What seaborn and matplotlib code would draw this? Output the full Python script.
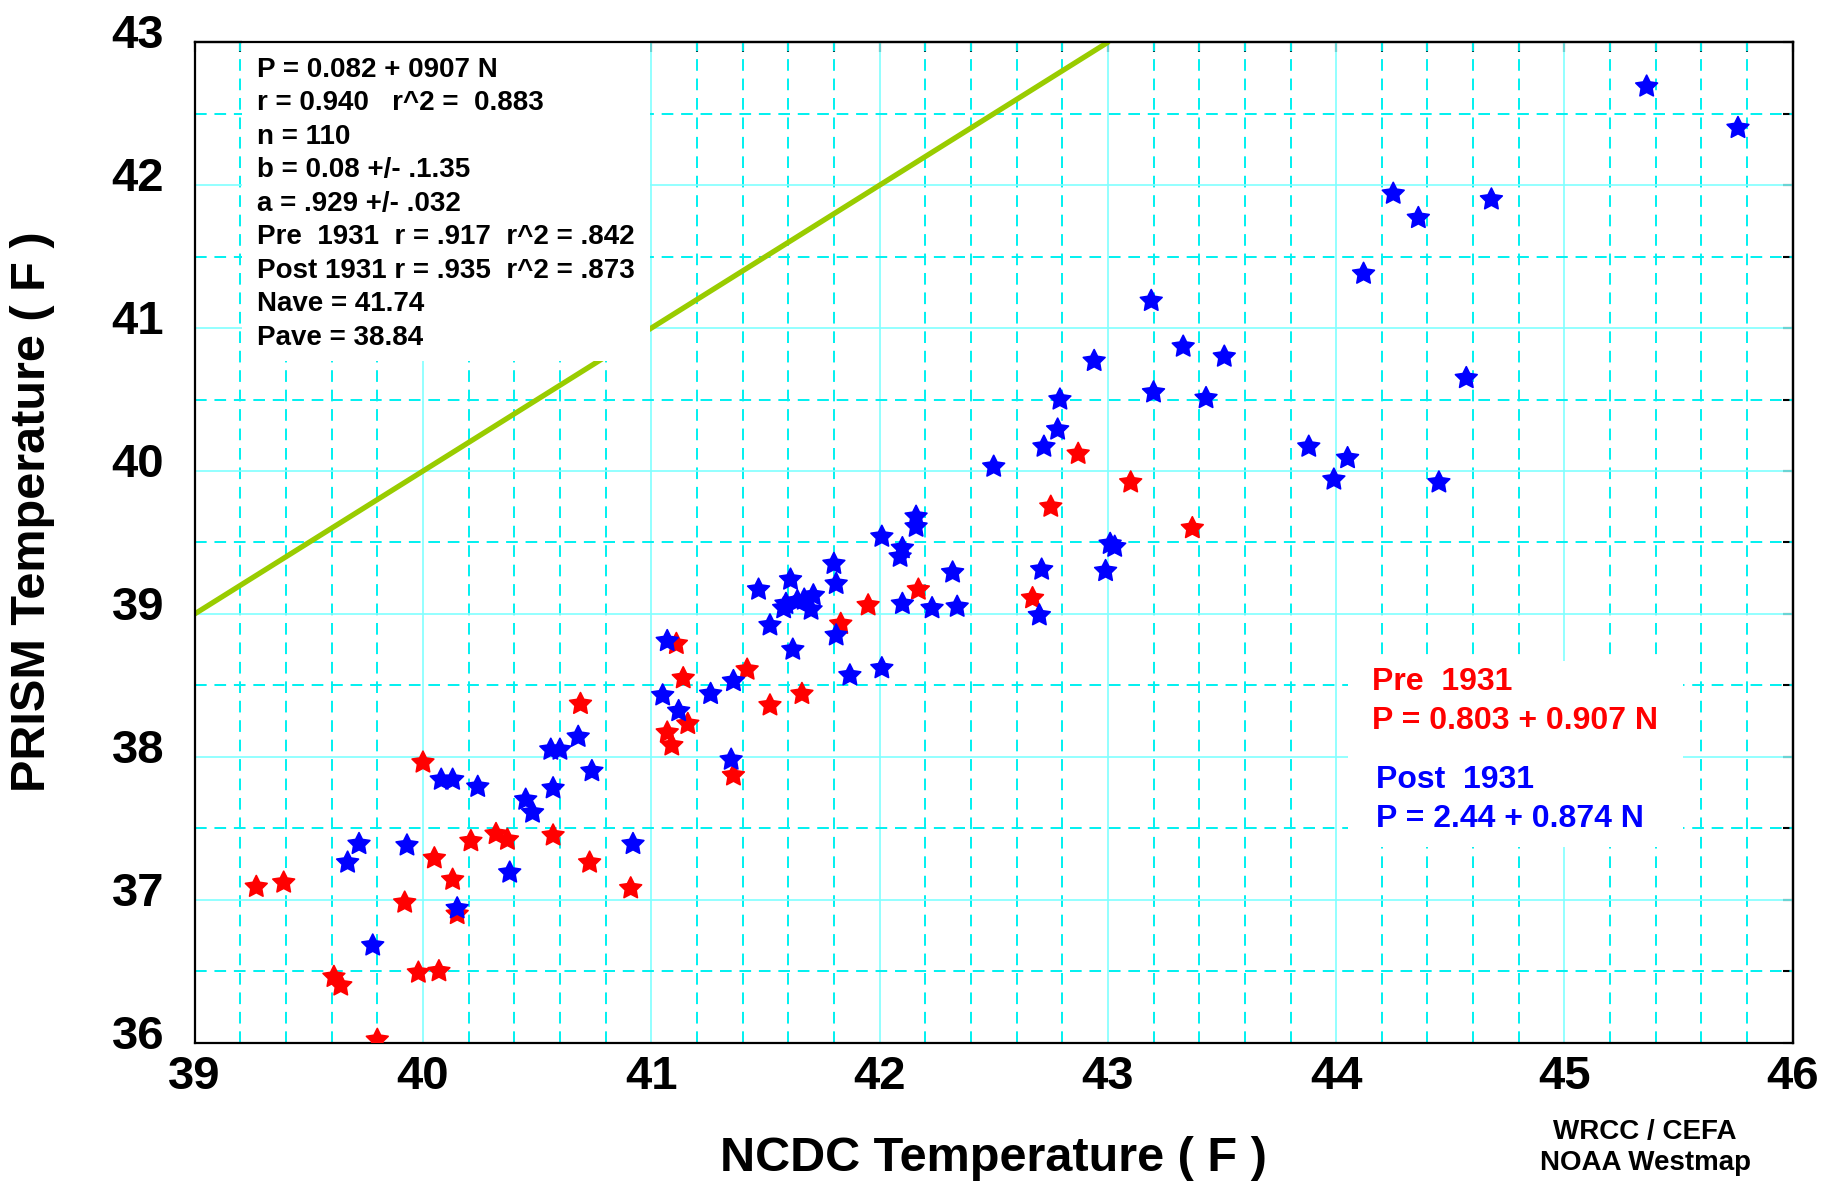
import numpy as np
import pandas as pd
import matplotlib
matplotlib.use("Agg")
import matplotlib.pyplot as plt
import matplotlib.transforms as mtransforms
from matplotlib.patches import Rectangle
from matplotlib.ticker import MultipleLocator
import seaborn as sns

# ---------------- data ----------------
pre_ncdc = [39.27, 39.39, 39.61, 39.64, 39.80, 39.92, 39.98, 40.07, 40.00, 40.05,
            40.13, 40.15, 40.21, 40.32, 40.37, 40.57, 40.73, 40.91, 40.69, 41.07,
            41.09, 41.16, 41.11, 41.14, 41.42, 41.52, 41.66, 41.36, 41.83, 41.95,
            42.17, 42.67, 42.87, 43.10, 42.75, 43.37]
pre_prism = [37.09, 37.12, 36.46, 36.40, 36.02, 36.98, 36.49, 36.50, 37.96, 37.29,
             37.14, 36.90, 37.41, 37.46, 37.42, 37.45, 37.26, 37.08, 38.37, 38.17,
             38.08, 38.23, 38.79, 38.55, 38.61, 38.36, 38.44, 37.87, 38.93, 39.06,
             39.17, 39.11, 40.12, 39.92, 39.75, 39.60]

post_ncdc = [39.72, 39.67, 39.78, 39.93, 40.08, 40.13, 40.24, 40.15, 40.45, 40.48,
             40.38, 40.56, 40.60, 40.57, 40.68, 40.74, 40.92, 41.05, 41.12, 41.07,
             41.26, 41.36, 41.35, 41.47, 41.61, 41.52, 41.59, 41.58, 41.67, 41.71,
             41.70, 41.64, 41.62, 41.80, 41.81, 41.81, 41.87, 42.01, 42.01, 42.16,
             42.16, 42.10, 42.09, 42.10, 42.23, 42.32, 42.34, 42.70, 42.71, 42.99,
             43.01, 43.03, 42.50, 42.72, 42.78, 42.79, 42.94, 43.20, 43.43, 43.51,
             43.33, 43.19, 43.88, 43.99, 44.05, 44.12, 44.25, 44.36, 44.68, 44.57,
             44.45, 45.36, 45.76]
post_prism = [37.39, 37.26, 36.68, 37.38, 37.84, 37.84, 37.79, 36.94, 37.70, 37.61,
              37.19, 38.05, 38.05, 37.78, 38.14, 37.90, 37.39, 38.43, 38.32, 38.81,
              38.44, 38.53, 37.98, 39.17, 39.24, 38.92, 39.07, 39.04, 39.10, 39.13,
              39.03, 39.09, 38.75, 39.35, 39.21, 38.85, 38.57, 38.62, 39.54, 39.68,
              39.61, 39.46, 39.40, 39.07, 39.04, 39.29, 39.05, 38.99, 39.31, 39.30,
              39.49, 39.47, 40.03, 40.17, 40.29, 40.50, 40.77, 40.55, 40.51, 40.80,
              40.87, 41.19, 40.17, 39.94, 40.09, 41.38, 41.94, 41.77, 41.90, 40.65,
              39.92, 42.69, 42.40]

one_to_one = [39.0, 43.0]

stats_lines = [
    "P = 0.082 + 0907 N",
    "r = 0.940   r^2 =  0.883",
    "n = 110",
    "b = 0.08 +/- .1.35",
    "a = .929 +/- .032",
    "Pre  1931  r = .917  r^2 = .842",
    "Post 1931 r = .935  r^2 = .873",
    "Nave = 41.74",
    "Pave = 38.84",
]
pre_label = ["Pre  1931", "P = 0.803 + 0.907 N"]
post_label = ["Post  1931", "P = 2.44 + 0.874 N"]

df = pd.DataFrame({
    "ncdc": pre_ncdc + post_ncdc,
    "prism": pre_prism + post_prism,
    "period": ["pre"] * len(pre_ncdc) + ["post"] * len(post_ncdc),
})
line_df = pd.DataFrame({"x": one_to_one, "y": one_to_one})

# ---------------- style ----------------
sns.set_style("white")
plt.rcParams["font.family"] = ["Liberation Sans", "DejaVu Sans"]
plt.rcParams["font.weight"] = "bold"
plt.rcParams["text.color"] = "black"
plt.rcParams["axes.labelcolor"] = "black"
plt.rcParams["xtick.color"] = "black"
plt.rcParams["ytick.color"] = "black"

fig = plt.figure(figsize=(18.26, 11.81), dpi=100)
ax = fig.add_axes([0.1066, 0.1171, 0.8752, 0.8471])

ax.set_xlim(39, 46)
ax.set_ylim(36, 43)
ax.xaxis.set_major_locator(MultipleLocator(1))
ax.xaxis.set_minor_locator(MultipleLocator(0.2))
ax.yaxis.set_major_locator(MultipleLocator(1))
ax.yaxis.set_minor_locator(MultipleLocator(0.5))
ax.set_axisbelow(True)
ax.grid(which="major", color="#80FFFF", linestyle="-", linewidth=1.2)
ax.grid(which="minor", color="#00F0F0", linestyle=(0, (6, 4)), linewidth=1.4)

# one-to-one line
sns.lineplot(data=line_df, x="x", y="y", ax=ax, color="#99CC00",
             linewidth=3.8, zorder=2, legend=False)

# white boxes behind the text blocks
ax.add_patch(Rectangle((0.0296, 0.681), 0.2554, 0.325, transform=ax.transAxes,
                       facecolor="white", edgecolor="none", zorder=2.5, clip_on=False))
ax.add_patch(Rectangle((0.7217, 0.1956), 0.2095, 0.186, transform=ax.transAxes,
                       facecolor="white", edgecolor="none", zorder=2.5))

sns.scatterplot(data=df, x="ncdc", y="prism", hue="period",
                palette={"pre": "#FF0000", "post": "#0000FF"},
                marker=(5, 1, 0), s=270, linewidth=1.2,
                edgecolor="face", ax=ax, legend=False, zorder=3)

# ticks
ax.tick_params(which="major", direction="in", length=29.5, width=1.5,
               labelsize=34, pad=9, colors="black")
ax.tick_params(which="minor", direction="in", length=14.4, width=1.5, colors="black")
ax.tick_params(axis="y", which="major", pad=22)
for lab in ax.get_xticklabels() + ax.get_yticklabels():
    lab.set_fontweight("bold")
    lab.set_color("black")
offset = mtransforms.ScaledTranslation(0, 11 / 100, fig.dpi_scale_trans)
for lab in ax.get_yticklabels():
    lab.set_transform(lab.get_transform() + offset)

for sp in ax.spines.values():
    sp.set_color("black")
    sp.set_linewidth(1.6)

secx = ax.secondary_xaxis("top")
secx.xaxis.set_major_locator(MultipleLocator(0.2))
secx.tick_params(direction="in", length=7.2, width=1.5, labeltop=False, colors="black")
secy = ax.secondary_yaxis("right")
secy.yaxis.set_major_locator(MultipleLocator(0.5))
secy.tick_params(direction="in", length=7.2, width=1.5, labelright=False, colors="black")
secx.spines["top"].set_linewidth(1.6)
secy.spines["right"].set_linewidth(1.6)
secx.spines["top"].set_color("black")
secy.spines["right"].set_color("black")

ax.set_xlabel("")
ax.set_ylabel("")

# stats text block
for i, line in enumerate(stats_lines):
    ax.text(0.0388, 0.9656 - 0.03349 * i, line, transform=ax.transAxes,
            fontsize=20, fontweight="bold", color="black", va="baseline",
            ha="left", zorder=4)

ax.text(0.7367, 0.3530, pre_label[0], transform=ax.transAxes, fontsize=23,
        fontweight="bold", color="#FF0000", va="baseline", zorder=4)
ax.text(0.7367, 0.3137, pre_label[1], transform=ax.transAxes, fontsize=23,
        fontweight="bold", color="#FF0000", va="baseline", zorder=4)
ax.text(0.7392, 0.2547, post_label[0], transform=ax.transAxes, fontsize=23,
        fontweight="bold", color="#0000FF", va="baseline", zorder=4)
ax.text(0.7392, 0.2157, post_label[1], transform=ax.transAxes, fontsize=23,
        fontweight="bold", color="#0000FF", va="baseline", zorder=4)

# axis titles and credits
fig.text(0.5442, 0.0085, "NCDC Temperature ( F )", ha="center", va="baseline",
         fontsize=35, fontweight="bold", color="black")
fig.text(0.018, 0.5665, "PRISM Temperature ( F )", ha="center", va="center",
         rotation=90, fontsize=35, fontweight="bold", color="black")
fig.text(0.9009, 0.0356, "WRCC / CEFA", ha="center", va="baseline",
         fontsize=20, fontweight="bold", color="black")
fig.text(0.9009, 0.0089, "NOAA Westmap", ha="center", va="baseline",
         fontsize=20, fontweight="bold", color="black")

fig.savefig("out.png", dpi=100, facecolor="white")
